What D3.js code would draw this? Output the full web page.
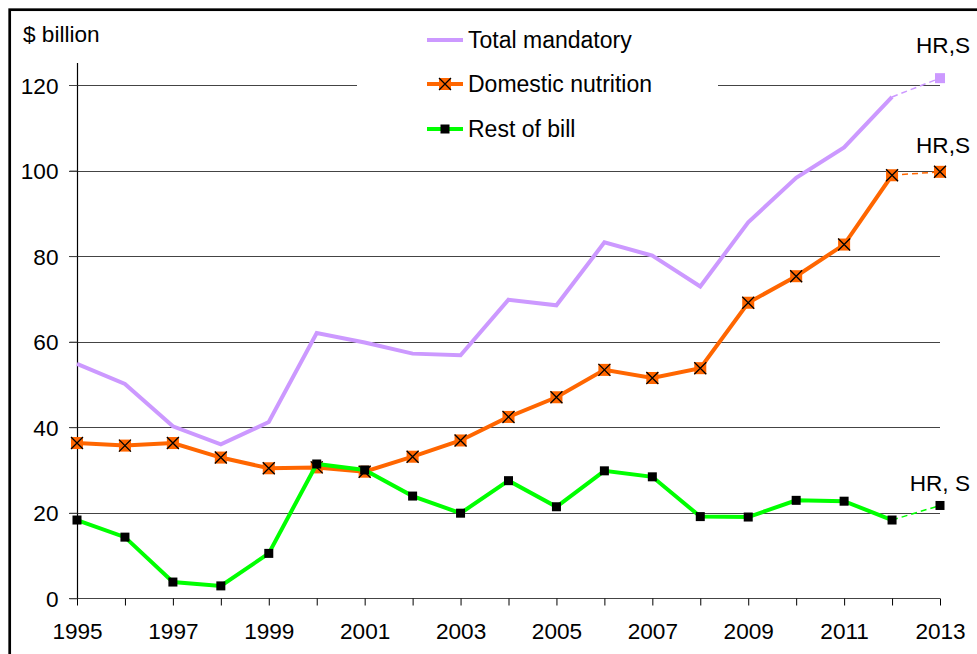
<!DOCTYPE html>
<html><head><meta charset="utf-8">
<script src="https://cdn.jsdelivr.net/npm/d3@7"></script>
<style>
html,body{margin:0;padding:0;background:#fff;}
svg{display:block;font-family:"Liberation Sans",Arial,sans-serif;}
</style></head>
<body>
<svg id="chart" width="977" height="654"></svg>
<script>
const years = [1995,1996,1997,1998,1999,2000,2001,2002,2003,2004,2005,2006,2007,2008,2009,2010,2011,2012,2013];
const totalMandatory = [54.8,50.1,40.2,36.0,41.2,62.0,59.8,57.2,56.8,69.8,68.5,83.2,80.1,72.9,87.9,98.3,105.4,117.2,121.6];
const domesticNutrition = [36.3,35.7,36.3,32.9,30.4,30.6,29.6,33.1,36.9,42.4,47.0,53.4,51.5,53.8,69.1,75.3,82.7,98.9,99.7];
const restOfBill = [18.3,14.3,3.8,2.9,10.5,31.4,30.0,23.9,19.9,27.5,21.4,29.8,28.4,19.1,19.0,22.9,22.7,18.3,21.7];
const yTicks = [0,20,40,60,80,100,120];
const xLabelYears = [1995,1997,1999,2001,2003,2005,2007,2009,2011,2013];
const seriesNames = ["Total mandatory","Domestic nutrition","Rest of bill"];
const endLabels = ["HR,S","HR,S","HR, S"];

const svg = d3.select("#chart");
const x = d3.scaleLinear().domain([1995,2013]).range([77,940]);
const y = d3.scaleLinear().domain([0,120]).range([598.3,85]);

const colors = {tm:"#CC99FF", dn:"#FF6600", rb:"#00FF00"};
const FS = 22.6;
const LFS = 23;

// frame
svg.append("rect").attr("x",9.7).attr("y",9.7).attr("width",1000).attr("height",700)
  .attr("fill","none").attr("stroke","#000").attr("stroke-width",2.7);

// gridlines
svg.append("g").selectAll("line").data(yTicks.filter(d=>d>0)).join("line")
  .attr("x1",69).attr("x2",940).attr("y1",d=>Math.round(y(d))+0.5).attr("y2",d=>Math.round(y(d))+0.5)
  .attr("stroke","#444").attr("stroke-width",1);

// legend background (hides gridline)
svg.append("rect").attr("x",357).attr("y",16).attr("width",361).attr("height",132).attr("fill","#fff");

// y axis
const yAxis = d3.axisLeft(y).tickValues(yTicks).tickSize(8).tickPadding(11).tickFormat(d3.format("d"));
const gy = svg.append("g").attr("transform","translate(77.5,0)").call(yAxis);
gy.select(".domain").attr("d","M0,63V"+(y(0)));
gy.selectAll(".tick line").attr("stroke","#444");
gy.selectAll(".tick text").attr("font-size",FS).attr("font-family","Liberation Sans, Arial, sans-serif").attr("fill","#000").attr("dy","0.36em");
gy.select(".domain").attr("stroke","#000").attr("stroke-width",1.2);

// x axis
const xAxis = d3.axisBottom(x).tickValues(years).tickSize(7).tickFormat(d => xLabelYears.includes(d) ? d : "");
const gx = svg.append("g").attr("transform","translate(0,"+(Math.round(y(0))+0.5)+")").call(xAxis);
gx.select(".domain").attr("d","M69,0H940").attr("stroke","#444");
gx.selectAll(".tick line").attr("stroke","#000");
gx.selectAll(".tick text").attr("font-size",FS).attr("font-family","Liberation Sans, Arial, sans-serif").attr("fill","#000").attr("y",24).attr("dy","0.71em");

// unit label
svg.append("text").attr("x",23).attr("y",42).attr("font-size",FS).text("$ billion");

const line = d3.line().x(d=>x(d[0])).y(d=>y(d[1]));
function drawSeries(vals, color){
  const pts = years.map((yr,i)=>[yr,vals[i]]);
  const solid = pts.slice(0, pts.length-1);
  const dashed = pts.slice(pts.length-2);
  svg.append("path").attr("d",line(solid)).attr("fill","none").attr("stroke",color).attr("stroke-width",4).attr("stroke-linejoin","miter");
  svg.append("path").attr("d",line(dashed)).attr("fill","none").attr("stroke",color).attr("stroke-width",1.5).attr("stroke-dasharray","6,4");
  return pts;
}
function xMarker(g, cx, cy){
  g.append("rect").attr("x",cx-6).attr("y",cy-6).attr("width",12).attr("height",12).attr("fill",colors.dn);
  g.append("path").attr("d",`M${cx-6},${cy-6}L${cx+6},${cy+6}M${cx+6},${cy-6}L${cx-6},${cy+6}`).attr("stroke","#000").attr("stroke-width",1.3);
}

// total mandatory
const tmPts = drawSeries(totalMandatory, colors.tm);
const lastTm = tmPts[tmPts.length-1];
svg.append("rect").attr("x",x(lastTm[0])-5).attr("y",y(lastTm[1])-5).attr("width",10).attr("height",10).attr("fill",colors.tm);

// domestic nutrition
const dnPts = drawSeries(domesticNutrition, colors.dn);
const dnG = svg.append("g");
dnPts.forEach(p=>xMarker(dnG, x(p[0]), y(p[1])));

// rest of bill
const rbPts = drawSeries(restOfBill, colors.rb);
svg.append("g").selectAll("rect").data(rbPts).join("rect")
  .attr("x",d=>x(d[0])-4.5).attr("y",d=>y(d[1])-4.5).attr("width",9).attr("height",9).attr("fill","#000");

// end labels
const lastVals = [totalMandatory[18], domesticNutrition[18], restOfBill[18]];
const labelOffsets = [-25, -19, -14];
svg.append("g").selectAll("text").data(endLabels).join("text")
  .attr("x",970).attr("y",(d,i)=>y(lastVals[i])+labelOffsets[i]).attr("text-anchor","end").attr("font-size",FS).text(d=>d);

// legend
const lg = svg.append("g");
const legY = [40,84,129];
const legColors = [colors.tm, colors.dn, colors.rb];
seriesNames.forEach((name,i)=>{
  lg.append("line").attr("x1",427).attr("x2",463).attr("y1",legY[i]).attr("y2",legY[i]).attr("stroke",legColors[i]).attr("stroke-width",4);
  if(i===1) xMarker(lg, 445, legY[i]);
  if(i===2) lg.append("rect").attr("x",440.5).attr("y",legY[i]-4.5).attr("width",9).attr("height",9).attr("fill","#000");
  lg.append("text").attr("x",468).attr("y",legY[i]+8).attr("font-size",LFS).text(name);
});
</script>
</body></html>
